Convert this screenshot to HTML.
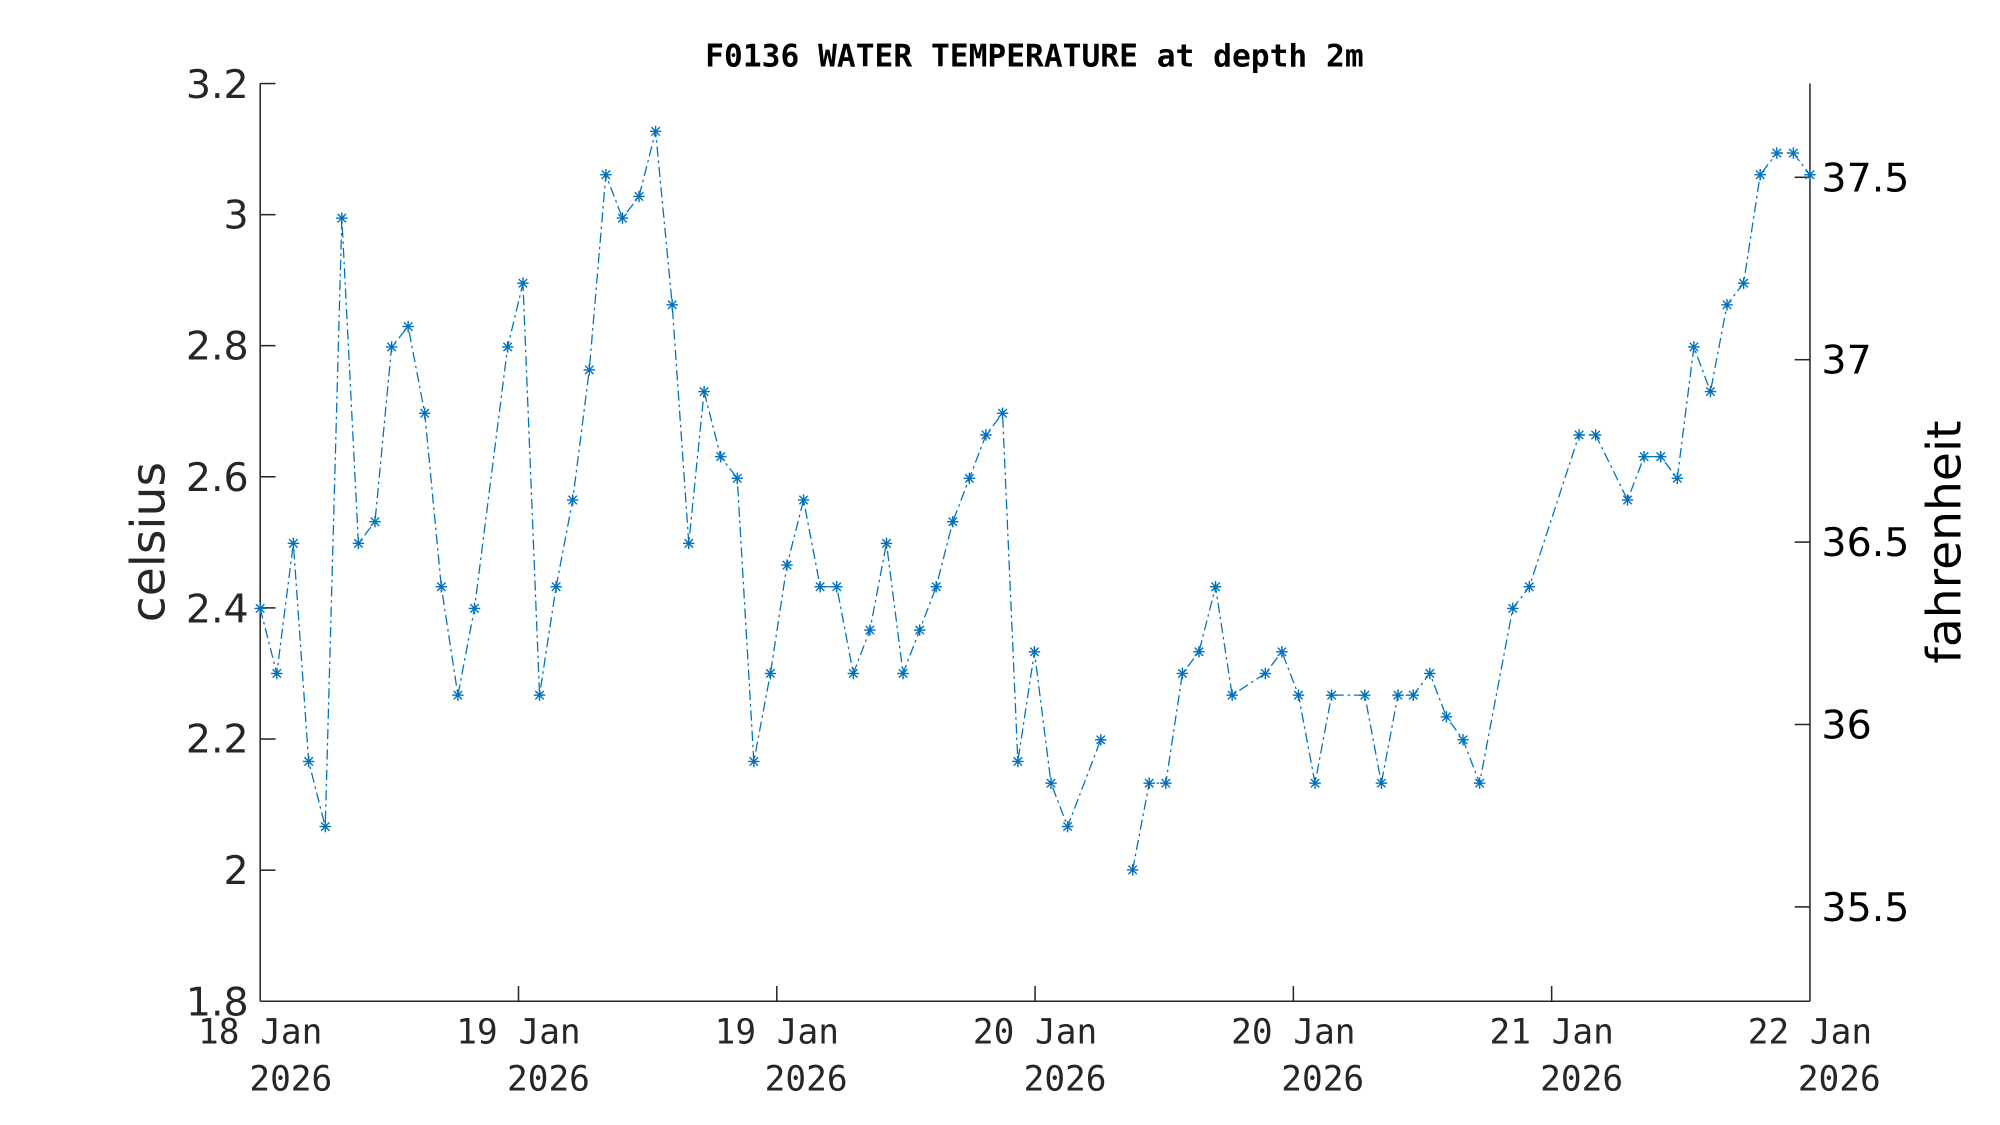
<!DOCTYPE html>
<html><head><meta charset="utf-8"><style>
html,body{margin:0;padding:0;background:#fff;}
svg{display:block;}
</style></head><body>
<svg width="2000" height="1125" viewBox="0 0 1568 882" xmlns="http://www.w3.org/2000/svg">
<defs>
<g id="m" stroke="#0072BD" stroke-width="1.1" fill="none">
<line x1="-4.5" y1="0" x2="4.5" y2="0"/><line x1="0" y1="-4.5" x2="0" y2="4.5"/>
<line x1="-3.3" y1="-3.3" x2="3.3" y2="3.3"/><line x1="-3.3" y1="3.3" x2="3.3" y2="-3.3"/>
</g>
</defs>
<rect width="1568" height="882" fill="#fff"/>
<text x="811" y="52" text-anchor="middle" font-family="DejaVu Sans Mono, Liberation Mono, monospace" font-weight="bold" font-size="24.5" fill="#000">F0136 WATER TEMPERATURE at depth 2m</text>
<g stroke="#262626" stroke-width="1.2" fill="none">
<line x1="204" y1="65.5" x2="204" y2="785"/>
<line x1="204" y1="785" x2="1419" y2="785"/>
<line x1="1419" y1="65.5" x2="1419" y2="785"/>
<line x1="204" y1="65.5" x2="216" y2="65.5"/>
<line x1="204" y1="168.3" x2="216" y2="168.3"/>
<line x1="204" y1="271" x2="216" y2="271"/>
<line x1="204" y1="373.8" x2="216" y2="373.8"/>
<line x1="204" y1="476.6" x2="216" y2="476.6"/>
<line x1="204" y1="579.4" x2="216" y2="579.4"/>
<line x1="204" y1="682.2" x2="216" y2="682.2"/>
<line x1="1407" y1="139" x2="1419" y2="139"/>
<line x1="1407" y1="282" x2="1419" y2="282"/>
<line x1="1407" y1="425" x2="1419" y2="425"/>
<line x1="1407" y1="568" x2="1419" y2="568"/>
<line x1="1407" y1="711" x2="1419" y2="711"/>
<line x1="406.5" y1="785" x2="406.5" y2="773"/>
<line x1="609" y1="785" x2="609" y2="773"/>
<line x1="811.5" y1="785" x2="811.5" y2="773"/>
<line x1="1014" y1="785" x2="1014" y2="773"/>
<line x1="1216.5" y1="785" x2="1216.5" y2="773"/>
</g>
<g font-family="DejaVu Sans, Liberation Sans, sans-serif" font-size="31" fill="#262626" text-anchor="end">
<text x="195" y="77">3.2</text><text x="195" y="179">3</text><text x="195" y="282">2.8</text>
<text x="195" y="385">2.6</text><text x="195" y="488">2.4</text><text x="195" y="590">2.2</text>
<text x="195" y="693">2</text><text x="195" y="796">1.8</text>
</g>
<g font-family="DejaVu Sans, Liberation Sans, sans-serif" font-size="31" fill="#000">
<text x="1428" y="150">37.5</text><text x="1428" y="293">37</text><text x="1428" y="436">36.5</text>
<text x="1428" y="579">36</text><text x="1428" y="722">35.5</text>
</g>
<text transform="translate(129,425) rotate(-90)" text-anchor="middle" font-family="DejaVu Sans, Liberation Sans, sans-serif" font-size="37" fill="#262626">celsius</text>
<text transform="translate(1537,425) rotate(-90)" text-anchor="middle" font-family="DejaVu Sans, Liberation Sans, sans-serif" font-size="37" fill="#000">fahrenheit</text>
<g font-family="DejaVu Sans Mono, Liberation Mono, monospace" font-size="27" fill="#262626" text-anchor="middle">
<text x="204" y="818">18 Jan</text><text x="228" y="855">2026</text>
<text x="406.5" y="818">19 Jan</text><text x="430" y="855">2026</text>
<text x="609" y="818">19 Jan</text><text x="632" y="855">2026</text>
<text x="811.5" y="818">20 Jan</text><text x="835" y="855">2026</text>
<text x="1014" y="818">20 Jan</text><text x="1037" y="855">2026</text>
<text x="1216.5" y="818">21 Jan</text><text x="1240" y="855">2026</text>
<text x="1419" y="818">22 Jan</text><text x="1442" y="855">2026</text>
</g>
<g fill="none" stroke="#0072BD" stroke-width="1" stroke-dasharray="8,3,2,3">
<polyline points="204,477 217,528 230,426 242,597 255,648 268,171 281,426 294,409 307,272 320,256 333,324 346,460 359,545 372,477 398,272 410,222 423,545 436,460 449,392 462,290 475,137 488,171 501,154 514,103 527,239 540,426 552,307 565,358 578,375 591,597 604,528 617,443 630,392 643,460 656,460 669,528 682,494 695,426 708,528 721,494 734,460 747,409 760,375 773,341 786,324 798,597 811,511 824,614 837,648 863,580"/>
<polyline points="888,682 901,614 914,614 927,528 940,511 953,460 966,545 992,528 1005,511 1018,545 1031,614 1044,545 1070,545 1083,614 1096,545 1108,545 1121,528 1134,562 1147,580 1160,614 1186,477 1199,460 1238,341 1251,341 1276,392 1289,358 1302,358 1315,375 1328,272 1341,307 1354,239 1367,222 1380,137 1393,120 1406,120 1419,137"/>
</g>
<g>
<use href="#m" x="204" y="477"/><use href="#m" x="217" y="528"/><use href="#m" x="230" y="426"/><use href="#m" x="242" y="597"/><use href="#m" x="255" y="648"/><use href="#m" x="268" y="171"/><use href="#m" x="281" y="426"/><use href="#m" x="294" y="409"/><use href="#m" x="307" y="272"/><use href="#m" x="320" y="256"/><use href="#m" x="333" y="324"/><use href="#m" x="346" y="460"/><use href="#m" x="359" y="545"/><use href="#m" x="372" y="477"/><use href="#m" x="398" y="272"/><use href="#m" x="410" y="222"/><use href="#m" x="423" y="545"/><use href="#m" x="436" y="460"/><use href="#m" x="449" y="392"/><use href="#m" x="462" y="290"/><use href="#m" x="475" y="137"/><use href="#m" x="488" y="171"/><use href="#m" x="501" y="154"/><use href="#m" x="514" y="103"/><use href="#m" x="527" y="239"/><use href="#m" x="540" y="426"/><use href="#m" x="552" y="307"/><use href="#m" x="565" y="358"/><use href="#m" x="578" y="375"/><use href="#m" x="591" y="597"/><use href="#m" x="604" y="528"/><use href="#m" x="617" y="443"/><use href="#m" x="630" y="392"/><use href="#m" x="643" y="460"/><use href="#m" x="656" y="460"/><use href="#m" x="669" y="528"/><use href="#m" x="682" y="494"/><use href="#m" x="695" y="426"/><use href="#m" x="708" y="528"/><use href="#m" x="721" y="494"/><use href="#m" x="734" y="460"/><use href="#m" x="747" y="409"/><use href="#m" x="760" y="375"/><use href="#m" x="773" y="341"/><use href="#m" x="786" y="324"/><use href="#m" x="798" y="597"/><use href="#m" x="811" y="511"/><use href="#m" x="824" y="614"/><use href="#m" x="837" y="648"/><use href="#m" x="863" y="580"/>
<use href="#m" x="888" y="682"/><use href="#m" x="901" y="614"/><use href="#m" x="914" y="614"/><use href="#m" x="927" y="528"/><use href="#m" x="940" y="511"/><use href="#m" x="953" y="460"/><use href="#m" x="966" y="545"/><use href="#m" x="992" y="528"/><use href="#m" x="1005" y="511"/><use href="#m" x="1018" y="545"/><use href="#m" x="1031" y="614"/><use href="#m" x="1044" y="545"/><use href="#m" x="1070" y="545"/><use href="#m" x="1083" y="614"/><use href="#m" x="1096" y="545"/><use href="#m" x="1108" y="545"/><use href="#m" x="1121" y="528"/><use href="#m" x="1134" y="562"/><use href="#m" x="1147" y="580"/><use href="#m" x="1160" y="614"/><use href="#m" x="1186" y="477"/><use href="#m" x="1199" y="460"/><use href="#m" x="1238" y="341"/><use href="#m" x="1251" y="341"/><use href="#m" x="1276" y="392"/><use href="#m" x="1289" y="358"/><use href="#m" x="1302" y="358"/><use href="#m" x="1315" y="375"/><use href="#m" x="1328" y="272"/><use href="#m" x="1341" y="307"/><use href="#m" x="1354" y="239"/><use href="#m" x="1367" y="222"/><use href="#m" x="1380" y="137"/><use href="#m" x="1393" y="120"/><use href="#m" x="1406" y="120"/><use href="#m" x="1419" y="137"/>
</g>
</svg>
</body></html>
